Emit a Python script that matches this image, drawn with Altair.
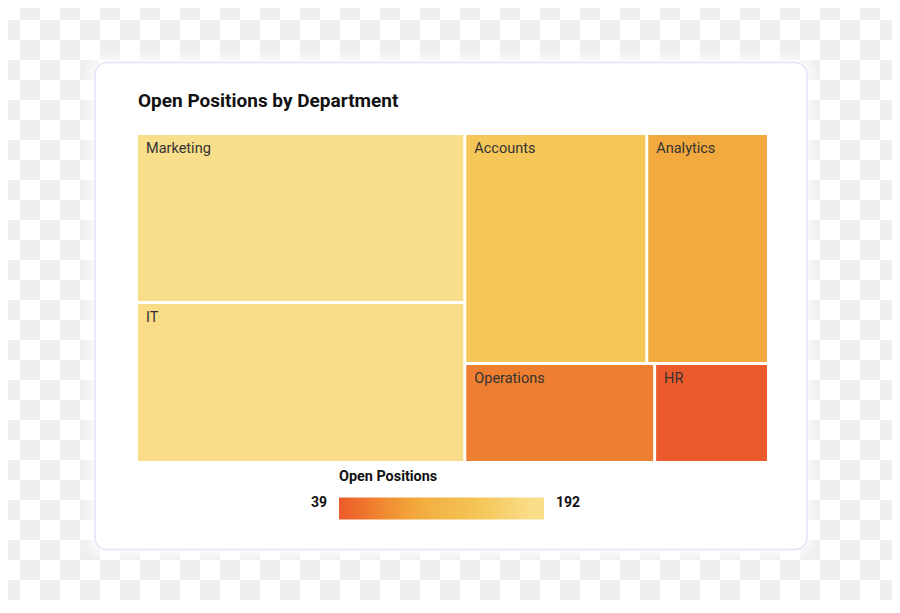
import altair as alt
import pandas as pd

# ---- data ----
departments = ["Marketing", "IT", "Accounts", "Analytics", "Operations", "HR"]
open_positions = [192, 182, 145, 97, 65, 39]
color_stops = [39, 65, 97, 145, 182, 192]
color_range = ["#eb5a2b", "#ef7f30", "#f2aa3e", "#f5c758", "#f9dc88", "#f9de8b"]
legend_values = [39, 192]
chart_title = "Open Positions by Department"
legend_title = "Open Positions"

# ---- geometry ----
W, H = 629, 326          # treemap plot area
PAD_L, PAD_T = 130, 127  # plot origin inside the canvas (page x 138, y 135)
CANVAS_W, CANVAS_H = 884, 592
GAP = 3
OX, OY = PAD_L + 8, PAD_T + 8   # page position of plot origin
LEG_X, LEG_Y = 339 - OX, 470 - OY
GRAD_LEN, GRAD_TH = 205, 22

PHI = (1 + 5 ** 0.5) / 2


def squarify(values, x0, y0, x1, y1, ratio=PHI):
    """d3.treemapSquarify layout (golden ratio)."""
    nodes = list(values)
    n = len(nodes)
    rects = [None] * n
    i0 = i1 = 0
    value = float(sum(nodes))
    while i0 < n:
        dx, dy = x1 - x0, y1 - y0
        sum_v = nodes[i1]
        i1 += 1
        min_v = max_v = sum_v
        alpha = max(dy / dx, dx / dy) / (value * ratio)
        beta = sum_v * sum_v * alpha
        min_ratio = max(max_v / beta, beta / min_v)
        while i1 < n:
            nv = nodes[i1]
            s = sum_v + nv
            mn, mx = min(min_v, nv), max(max_v, nv)
            beta = s * s * alpha
            new_ratio = max(mx / beta, beta / mn)
            if new_ratio > min_ratio:
                break
            sum_v, min_v, max_v, min_ratio = s, mn, mx, new_ratio
            i1 += 1
        row = range(i0, i1)
        if dx < dy:
            ny = y0 + dy * sum_v / value
            k = (x1 - x0) / sum_v
            cx = x0
            for j in row:
                rects[j] = (cx, y0, cx + nodes[j] * k, ny)
                cx += nodes[j] * k
            y0 = ny
        else:
            nx = x0 + dx * sum_v / value
            k = (y1 - y0) / sum_v
            cy = y0
            for j in row:
                rects[j] = (x0, cy, nx, cy + nodes[j] * k)
                cy += nodes[j] * k
            x0 = nx
        value -= sum_v
        i0 = i1
    return rects


p = GAP / 2
cells = squarify(open_positions, -p, -p, W + p, H + p)
tree = pd.DataFrame({
    "Department": departments,
    "Open Positions": open_positions,
    "x0": [c[0] + p for c in cells],
    "x1": [c[2] - p for c in cells],
    "y0": [c[1] + p for c in cells],
    "y1": [c[3] - p for c in cells],
})

xs = alt.Scale(domain=[0, W], nice=False, zero=False)
ys = alt.Scale(domain=[0, H], reverse=True, nice=False, zero=False)

# ---- background checkerboard ----
checker = (
    alt.Chart(alt.sequence(0, 45 * 31, as_="i"))
    .transform_calculate(col="datum.i % 45", row="floor(datum.i / 45)")
    .transform_filter("(datum.col + datum.row) % 2 == 1")
    .transform_calculate(
        cx0=f"datum.col * 20 - {OX}",
        cx1=f"datum.col * 20 + 20 - {OX}",
        cy0=f"datum.row * 20 - {OY}",
        cy1=f"datum.row * 20 + 20 - {OY}",
    )
    .mark_rect(color="#efefef")
    .encode(
        x=alt.X("cx0:Q", scale=xs, axis=None),
        x2="cx1:Q",
        y=alt.Y("cy0:Q", scale=ys, axis=None),
        y2="cy1:Q",
    )
)

# ---- card ----
card_l, card_r, card_t, card_b = 95 - OX, 807 - OX, 62.5 - OY, 549.5 - OY
one = pd.DataFrame({"k": [1]})
glows = []
for grow, op in [(10, 0.25), (6, 0.3), (3, 0.35)]:
    glows.append(
        alt.Chart(one)
        .mark_rect(fill="#ffffff", opacity=op, cornerRadius=12 + grow)
        .encode(
            x=alt.value(card_l - grow), x2=alt.value(card_r + grow),
            y=alt.value(card_t - grow), y2=alt.value(card_b + grow),
        )
    )
card = (
    alt.Chart(one)
    .mark_rect(fill="#ffffff", stroke="#e1e4f8", strokeWidth=1.5, cornerRadius=12)
    .encode(
        x=alt.value(card_l), x2=alt.value(card_r),
        y=alt.value(card_t), y2=alt.value(card_b),
    )
)

# ---- treemap ----
rects = (
    alt.Chart(tree)
    .mark_rect()
    .encode(
        x=alt.X("x0:Q", scale=xs, axis=None),
        x2="x1:Q",
        y=alt.Y("y0:Q", scale=ys, axis=None),
        y2="y1:Q",
        color=alt.Color(
            "Open Positions:Q",
            scale=alt.Scale(domain=color_stops, range=color_range),
            legend=alt.Legend(
                title=legend_title,
                orient="none",
                legendX=LEG_X,
                legendY=LEG_Y,
                direction="horizontal",
                gradientLength=GRAD_LEN,
                gradientThickness=GRAD_TH,
                gradientStrokeWidth=0,
                padding=0,
                values=legend_values,
                titleFont="Roboto",
                titleFontSize=14.4,
                titleFontWeight="bold",
                titleColor="#111111",
                titlePadding=13,
                labelExpr="''",
            ),
        ),
        tooltip=["Department:N", "Open Positions:Q"],
    )
)

labels = (
    alt.Chart(tree)
    .mark_text(align="left", baseline="alphabetic", dx=8, dy=18,
               font="Roboto", fontSize=14.5, color="#333333")
    .encode(
        x=alt.X("x0:Q", scale=xs, axis=None),
        y=alt.Y("y0:Q", scale=ys, axis=None),
        text="Department:N",
    )
)

# legend end labels, placed beside the gradient ends
vmin, vmax = min(color_stops), max(color_stops)
leg_df = pd.DataFrame({"v": legend_values})


def end_label(test, align, shift):
    return (
        alt.Chart(leg_df)
        .transform_filter(test)
        .transform_calculate(
            lx=f"{LEG_X} + (datum.v - {vmin}) / ({vmax} - {vmin}) * {GRAD_LEN} + ({shift})",
            ly=f"{470 - OY + 37}",
        )
        .mark_text(align=align, baseline="alphabetic", font="Roboto",
                   fontSize=14, fontWeight="bold", color="#111111")
        .encode(
            x=alt.X("lx:Q", scale=xs, axis=None),
            y=alt.Y("ly:Q", scale=ys, axis=None),
            text=alt.Text("v:Q", format="d"),
        )
    )


low_label = end_label(f"datum.v <= {vmin}", "right", -12)
high_label = end_label(f"datum.v >= {vmax}", "left", 12)

title = (
    alt.Chart(pd.DataFrame({"t": [chart_title]}))
    .mark_text(align="left", baseline="alphabetic", font="Roboto",
               fontSize=19, fontWeight="bold", color="#111111")
    .encode(x=alt.value(0), y=alt.value(107 - OY), text="t:N")
)

chart = (
    alt.layer(checker, *glows, card, rects, labels, low_label, high_label, title)
    .properties(
        width=W,
        height=H,
        padding={"left": PAD_L, "top": PAD_T,
                 "right": CANVAS_W - PAD_L - W, "bottom": CANVAS_H - PAD_T - H},
        autosize=alt.AutoSizeParams(type="none"),
        background="#ffffff",
    )
    .configure_view(strokeWidth=0)
)

chart.save("out.html", embed_options={"renderer": "svg", "actions": False})
